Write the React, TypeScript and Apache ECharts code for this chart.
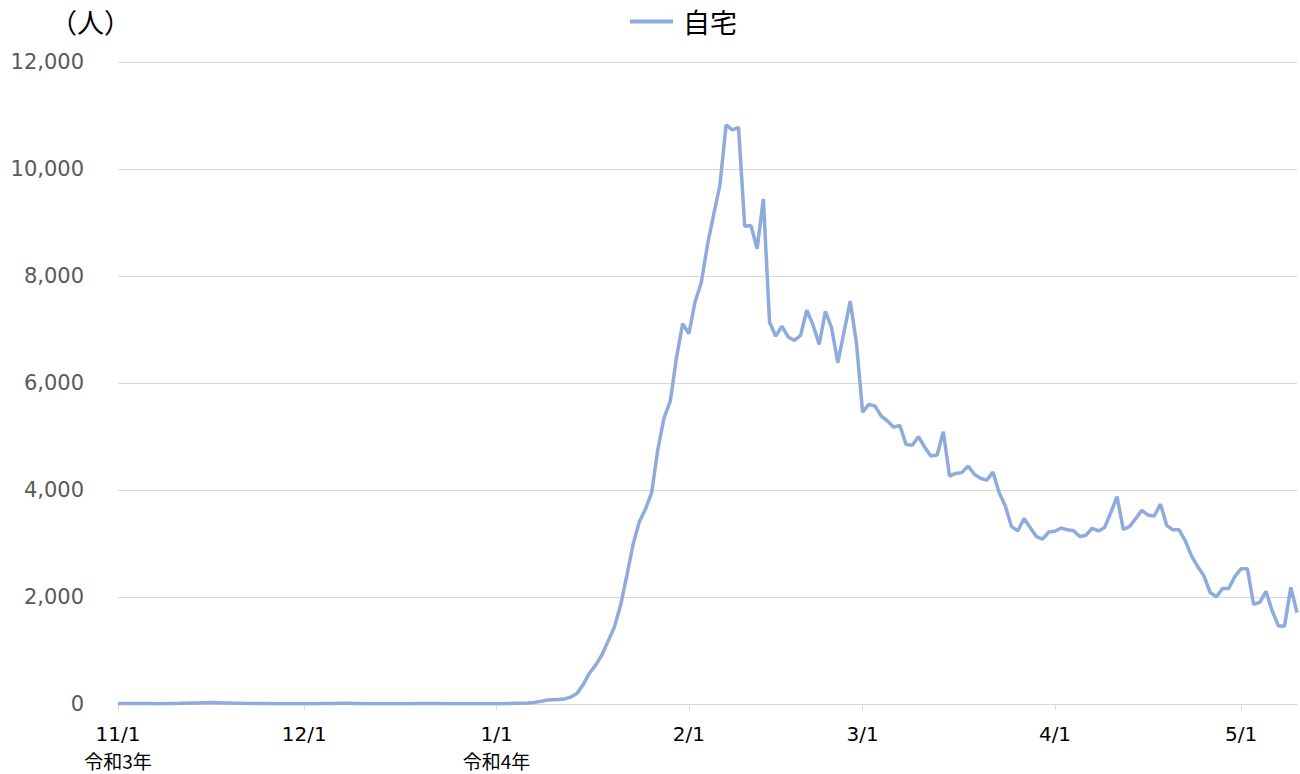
import React, { useEffect, useRef } from "react";
import * as echarts from "echarts";

// Daily values (人), 2021/11/1 – 2022/5/10
const novValues = [10, 10, 10, 10, 8, 8, 5, 5, 8, 10, 12, 15, 18, 20, 25, 28, 25, 20, 18, 15, 12, 10, 10, 8, 8, 6, 6, 5, 5, 5];
const decValues = [5, 5, 6, 8, 10, 10, 12, 12, 10, 8, 6, 5, 5, 4, 4, 5, 5, 6, 8, 10, 10, 10, 8, 6, 5, 5, 4, 4, 5, 5, 5];
const janValues = [5, 5, 10, 15, 15, 20, 30, 45, 70, 80, 85, 95, 130, 200, 370, 580, 730, 920, 1180, 1440, 1850, 2400, 2980, 3400, 3640, 3950, 4760, 5350, 5660, 6470, 7110];
const febValues = [6920, 7520, 7880, 8585, 9150, 9700, 10825, 10730, 10780, 8930, 8945, 8510, 9440, 7135, 6875, 7060, 6860, 6795, 6890, 7360, 7090, 6720, 7340, 7030, 6380, 6950, 7530, 6750];
const marValues = [5455, 5600, 5570, 5380, 5290, 5175, 5205, 4850, 4835, 4995, 4800, 4635, 4655, 5090, 4260, 4310, 4325, 4450, 4295, 4220, 4185, 4335, 3950, 3700, 3315, 3235, 3465, 3300, 3130, 3080, 3215];
const aprValues = [3230, 3290, 3255, 3240, 3130, 3155, 3285, 3235, 3300, 3580, 3875, 3265, 3315, 3465, 3620, 3530, 3515, 3735, 3340, 3255, 3255, 3050, 2770, 2570, 2395, 2085, 2005, 2160, 2160, 2385];
const mayValues = [2530, 2530, 1865, 1900, 2105, 1740, 1460, 1460, 2180, 1710];

const values = [...novValues, ...decValues, ...janValues, ...febValues, ...marValues, ...aprValues, ...mayValues];

const START_UTC = Date.UTC(2021, 10, 1);
const categories = values.map((_, i) => {
  const d = new Date(START_UTC + i * 86400000);
  return `${d.getUTCMonth() + 1}/${d.getUTCDate()}`;
});

const eraLabels: Record<string, string> = { "11/1": "令和3年", "1/1": "令和4年" };
const seriesName = "自宅";
const unitLabel = "（人）";
const yMin = 0;
const yMax = 12000;
const yInterval = 2000;

const LINE_COLOR = "#8faadc";
const GRID_COLOR = "#d9d9d9";
const LATIN = "DejaVu Sans, Verdana, sans-serif";
const CJK = "Noto Sans CJK JP, sans-serif";

const isMonthStart = (_i: number, v: string) => v.endsWith("/1");

export default function App() {
  const ref = useRef<HTMLDivElement>(null);
  useEffect(() => {
    document.body.style.margin = "0";
    const chart = echarts.init(ref.current!, undefined, { renderer: "svg" });
    chart.setOption({
      animation: false,
      backgroundColor: "#ffffff",
      grid: { left: 118, right: 3, top: 62, bottom: 69 },
      legend: {
        data: [seriesName],
        left: 630,
        top: 8,
        padding: 0,
        icon: "rect",
        itemWidth: 43,
        itemHeight: 4,
        textStyle: { fontSize: 27, color: "#000", fontFamily: CJK, padding: [0, 0, 0, 5] },
      },
      graphic: [
        {
          type: "text",
          left: 50,
          top: 8,
          style: { text: unitLabel, fontSize: 27, fill: "#000", fontFamily: CJK },
        },
      ],
      xAxis: {
        type: "category",
        data: categories,
        boundaryGap: false,
        axisLine: { lineStyle: { color: GRID_COLOR, width: 1 } },
        axisTick: { show: true, interval: isMonthStart, length: 6, lineStyle: { color: GRID_COLOR } },
        axisLabel: {
          interval: isMonthStart,
          color: "#000",
          fontSize: 20,
          fontFamily: LATIN,
          margin: 16,
          lineHeight: 27,
          formatter: (v: string) => (eraLabels[v] ? `${v}\n{era|${eraLabels[v]}}` : v),
          rich: {
            era: { fontSize: 19, fontFamily: CJK, color: "#000", lineHeight: 27 },
          },
        },
        splitLine: { show: false },
      },
      yAxis: {
        type: "value",
        min: yMin,
        max: yMax,
        interval: yInterval,
        axisLine: { show: false },
        axisTick: { show: false },
        axisLabel: {
          color: "#595959",
          fontSize: 21,
          fontFamily: LATIN,
          margin: 34,
          formatter: (v: number) => v.toLocaleString("en-US"),
        },
        splitLine: { lineStyle: { color: GRID_COLOR, width: 1 } },
      },
      series: [
        {
          name: seriesName,
          type: "line",
          data: values,
          symbol: "none",
          showSymbol: false,
          lineStyle: { color: LINE_COLOR, width: 3.5 },
          itemStyle: { color: LINE_COLOR },
        },
      ],
    });
    return () => chart.dispose();
  }, []);
  return <div ref={ref} style={{ width: 1300, height: 774 }} />;
}
